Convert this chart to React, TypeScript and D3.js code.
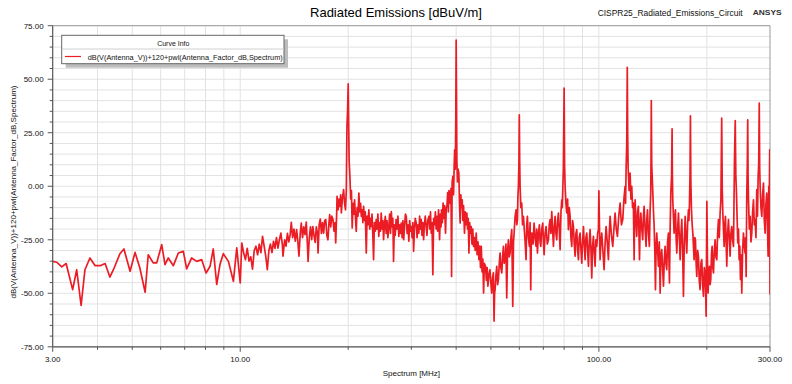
import React from 'react';
import * as d3 from 'd3';

// ---------- data: [frequency MHz, level dBuV/m] ----------
const band3to10: [number, number][] = [
  [3.00, -35.1], [3.08, -35.5], [3.18, -37.7], [3.27, -36.1], [3.41, -48.3], [3.50, -39.0], [3.60, -55.7], [3.69, -39.0],
  [3.81, -33.5], [3.94, -37.1], [4.07, -37.1], [4.20, -36.1], [4.33, -42.4], [4.43, -39.0], [4.62, -31.5], [4.74, -29.3],
  [4.93, -39.7], [5.09, -30.9], [5.25, -38.2], [5.43, -49.5], [5.54, -32.0], [5.72, -35.8], [5.85, -35.8], [6.04, -27.3],
  [6.17, -36.6], [6.30, -33.5], [6.51, -37.1], [6.72, -31.2], [6.94, -30.4], [7.09, -38.6], [7.32, -33.5], [7.56, -35.1],
  [7.81, -34.3], [8.03, -40.5], [8.24, -37.4], [8.41, -29.3], [8.60, -45.9], [8.78, -36.6], [8.97, -31.5], [9.27, -35.1],
  [9.57, -44.4], [9.78, -28.8],
];

const band10to20: [number, number][] = [
  [10.00, -45.2], [10.10, -26.5], [10.22, -31], [10.34, -34.3], [10.46, -29], [10.58, -35], [10.70, -33], [10.82, -38.7],
  [10.94, -30], [11.06, -28], [11.18, -32], [11.30, -27], [11.42, -31], [11.54, -23.4], [11.66, -28], [11.78, -32.7],
  [11.90, -39], [12.02, -30], [12.14, -27], [12.26, -31], [12.38, -25.7], [12.50, -29], [12.62, -24], [12.74, -28.9],
  [12.86, -25], [12.98, -21.9], [13.10, -27], [13.16, -32.7], [13.30, -25], [13.42, -28], [13.54, -22], [13.66, -26],
  [13.78, -22.6], [13.88, -16.9], [14.00, -24], [14.12, -20], [14.24, -25.7], [14.36, -20.3], [14.48, -26], [14.58, -32.7],
  [14.70, -22], [14.80, -17.2], [14.92, -24], [15.04, -19], [15.16, -22.6], [15.28, -16.7], [15.40, -28], [15.46, -35.1],
  [15.58, -24], [15.70, -19], [15.82, -25], [15.94, -18.8], [16.06, -23], [16.18, -26.2], [16.30, -19], [16.42, -22],
  [16.48, -31.2], [16.60, -18], [16.72, -15.3], [16.84, -22], [16.96, -17], [17.08, -21.9], [17.20, -16], [17.32, -15.6],
  [17.44, -23], [17.56, -25], [17.68, -17], [17.76, -13.3], [17.88, -19], [18.00, -14], [18.14, -15.6], [18.26, -21],
  [18.38, -17], [18.46, -26.5], [18.58, -12], [18.62, -4.7], [18.74, -11], [18.86, -6], [18.94, -9.4], [19.06, -4],
  [19.14, -12.5], [19.26, -6], [19.42, -1.6], [19.54, -8], [19.66, -11], [19.76, -2], [19.84, 27.9], [19.92, 35],
];

const band20to40: [number, number][] = [
  [20.00, 47.8], [20.06, 30], [20.12, 12], [20.22, 4.6], [20.32, -6], [20.42, -2], [20.52, -19.5], [20.64, -8],
  [20.76, -13], [20.84, -6.3], [20.96, -15], [21.06, -21.1], [21.18, -10], [21.30, -14], [21.42, -3.2], [21.54, -12],
  [21.66, -8], [21.76, -14.1], [21.88, -11], [21.98, -17], [22.08, -9.4], [22.20, -16], [22.32, -12], [22.46, -31.2],
  [22.58, -14], [22.70, -18], [22.84, -11], [22.96, -20], [23.08, -15], [23.18, -18.8], [23.30, -13], [23.42, -22],
  [23.54, -34.3], [23.66, -17], [23.80, -21], [23.94, -15.6], [24.06, -20], [24.20, -13], [24.34, -23.4], [24.48, -17],
  [24.60, -21], [24.72, -12.5], [24.86, -20], [25.00, -16], [25.10, -25], [25.24, -18], [25.38, -14.1], [25.52, -22],
  [25.66, -16], [25.80, -24], [25.96, -18.8], [26.10, -13], [26.24, -22], [26.38, -11.8], [26.52, -19], [26.64, -15],
  [26.76, -35.1], [26.90, -18], [27.04, -23], [27.20, -15.6], [27.36, -20], [27.52, -14], [27.68, -23.4], [27.84, -18],
  [28.00, -22], [28.12, -17.2], [28.28, -24], [28.42, -16], [28.56, -25], [28.72, -19], [28.88, -13], [29.04, -14.1],
  [29.20, -22], [29.36, -18], [29.52, -25.7], [29.68, -16], [29.84, -21], [29.98, -18.8], [30.14, -24], [30.30, -17],
  [30.44, -30.4], [30.60, -20], [30.76, -15], [30.96, -17.2], [31.12, -24], [31.30, -18], [31.48, -21.9], [31.64, -14],
  [31.80, -20], [31.96, -15.6], [32.12, -23], [32.30, -17], [32.46, -25], [32.62, -18], [32.80, -14], [33.00, -18.8],
  [33.16, -23], [33.34, -16], [33.58, -14.1], [33.76, -20], [33.92, -12], [34.08, -21.9], [34.26, -17], [34.44, -41.3],
  [34.62, -15], [34.82, -18], [35.00, -12], [35.18, -20], [35.36, -14.1], [35.54, -21], [35.72, -11], [35.96, -25],
  [36.14, -13], [36.30, -19], [36.42, -11], [36.60, -17], [36.78, -7.9], [36.96, -15], [37.14, -9], [37.36, -21.9],
  [37.54, -10], [37.70, -9.4], [37.88, -3], [38.04, -12], [38.20, -2], [38.34, -3.2], [38.52, -8], [38.70, -1],
  [38.84, -42.1], [38.98, 2], [39.16, 4.6], [39.34, -4], [39.50, 10], [39.62, 17], [39.78, 8], [39.90, 30],
];

const band40to80: [number, number][] = [
  [40.00, 68.3], [40.08, 45], [40.18, 12.4], [40.34, 2], [40.50, 8], [40.70, 6.1], [40.86, -8], [41.04, -17.2],
  [41.22, -4], [41.40, -10], [41.58, -6.3], [41.76, -16], [41.94, -9], [42.20, -21.9], [42.40, -12], [42.60, -18],
  [42.84, -12.5], [43.04, -20], [43.22, -15], [43.42, -31.2], [43.62, -17], [43.84, -22], [44.06, -18.8], [44.28, -27],
  [44.50, -20], [44.72, -28.1], [44.96, -24], [45.20, -30], [45.50, -21.9], [45.76, -32], [46.02, -26], [46.30, -34.3],
  [46.54, -28], [46.76, -38], [47.00, -28.1], [47.24, -40], [47.48, -34], [47.70, -49.9], [47.94, -36], [48.30, -37.4],
  [48.56, -44], [48.80, -38], [49.04, -46.7], [49.40, -41], [49.70, -39], [49.96, -45], [50.27, -49.9], [50.50, -43],
  [50.80, -40.5], [51.02, -63], [51.20, -50], [51.35, -48.3], [51.62, -42], [51.91, -37.4], [52.20, -46], [52.47, -43.6],
  [52.76, -36], [53.03, -31.2], [53.30, -38], [53.60, -40.5], [53.90, -33], [54.18, -28.1], [54.46, -36], [54.76, -34.3],
  [55.06, -27], [55.35, -52.2], [55.64, -30], [55.95, -25], [56.24, -33], [56.55, -31.2], [56.86, -24], [57.16, -20.3],
  [57.53, -56.1], [57.80, -26], [58.03, -21.9], [58.40, -14], [58.78, -11], [59.04, -18], [59.28, -15.6], [59.46, -5],
  [59.65, 0], [59.84, 10], [60.00, 33.3], [60.14, 12], [60.30, 0], [60.60, -10], [60.94, -7.9], [61.26, -18],
  [61.61, -14.1], [61.94, -20], [62.26, -25.7], [62.66, -34.3], [62.92, -18], [63.20, -14.1], [63.60, -24], [64.02, -28.1],
  [64.30, -17], [64.57, -48.3], [64.84, -22], [65.12, -21.9], [65.54, -27], [65.97, -17.2], [66.40, -24], [66.82, -28.1],
  [67.10, -20], [67.40, -31.2], [67.84, -22], [68.27, -18], [68.56, -26], [68.86, -28.1], [69.30, -20], [69.75, -17.2],
  [70.05, -26], [70.35, -32], [70.80, -22], [71.26, -18.8], [71.80, -27], [72.33, -25], [72.72, -18], [73.11, -15.6],
  [73.50, -22], [73.89, -11.8], [74.30, -20], [74.69, -28.1], [75.10, -19], [75.49, -14.1], [75.90, -22], [76.31, -25],
  [76.72, -16], [77.13, -12.5], [77.54, -20], [77.96, -29.6], [78.40, -12], [78.80, -6.3], [79.06, -10], [79.31, -1.6],
  [79.60, 8],
];

const band80to160: [number, number][] = [
  [80.00, 45.8], [80.24, 10], [80.50, 0], [80.94, -8], [81.37, -12.5], [81.80, -6], [82.24, -20.3], [82.68, -10],
  [83.13, -14.1], [83.58, -24], [84.03, -28.1], [84.48, -16], [84.93, -18.8], [85.38, -27], [85.84, -32.7], [86.30, -22],
  [86.77, -20.3], [87.24, -30], [87.70, -34.3], [88.16, -24], [88.64, -21.9], [89.10, -29], [89.60, -35.9], [90.08, -26],
  [90.56, -18.8], [91.04, -27], [91.53, -34.3], [92.02, -24], [92.52, -21.9], [93.02, -30], [93.51, -37.4], [94.02, -26],
  [94.52, -20.3], [95.02, -29], [95.53, -42.9], [96.04, -28], [96.56, -23.4], [97.08, -31], [97.60, -37.4], [98.12, -25],
  [98.65, -28.1], [99.20, -22], [99.71, -20.3], [100.0, -2.1], [100.40, -20], [100.78, -34.3], [101.30, -26], [101.87, -21.9],
  [102.60, -30], [103.40, -39], [104.06, -27], [104.74, -18.8], [105.50, -26], [106.32, -34.3], [106.90, -22], [107.47, -14.1],
  [108.40, -23], [109.32, -28.1], [110.14, -20], [110.97, -12.5], [111.80, -20], [112.65, -23.4], [113.60, -14], [114.59, -7.9],
  [115.58, -18], [116.57, -15.6], [117.44, -6], [118.33, 0], [118.70, -8], [119.09, 7.7], [119.60, 20], [120.00, 55.6],
  [120.30, 25], [120.64, 9.2], [121.40, -2], [122.20, 6.1], [122.84, -6], [123.50, 0], [124.14, -10], [124.80, -7.9],
  [125.40, -34.3], [125.80, -12], [126.20, -6.3], [126.84, -16], [127.50, -23.4], [128.20, -12], [128.90, -9.4], [129.80, -34.3],
  [130.34, -18], [130.90, -12.5], [131.70, -20], [132.50, -25], [133.10, -14], [133.70, -9.4], [134.54, -20], [135.40, -28.1],
  [136.00, -16], [136.60, -11], [137.44, -22], [138.30, -28.1], [138.90, -12], [139.50, -3.2], [139.80, 15], [140.00, 40],
  [140.40, 10], [141.40, -3.2], [142.00, -12], [142.60, -18.8], [143.20, -30], [143.80, -48.3], [144.40, -28], [145.00, -21.9],
  [145.80, -30], [146.60, -37.4], [147.40, -26], [148.20, -49.9], [148.94, -32], [149.70, -29.6], [150.54, -38], [151.40, -46.7],
  [152.20, -34], [153.00, -28.1], [153.80, -36], [154.60, -39], [155.44, -26], [156.30, -21.9], [156.80, -34], [157.30, -45.2],
  [158.00, -20], [158.70, -3.2], [159.50, 5],
];

const band160to300: [number, number][] = [
  [160.00, 26.8], [160.30, 5], [160.70, -6.3], [161.40, -14], [162.10, -21.9], [162.80, -15], [163.50, -11], [164.20, -24],
  [164.90, -31.2], [165.80, -20], [166.70, -12.5], [167.60, -24], [168.50, -34.3], [169.40, -22], [170.30, -15.6], [171.20, -30],
  [172.10, -51.4], [173.04, -26], [174.00, -14.1], [174.90, -24], [175.80, -31.2], [176.74, -18], [177.70, -11], [178.30, -16],
  [178.90, -7.9], [179.50, 5], [180.00, 32.9], [180.50, 2], [181.20, -11], [182.00, -18], [182.80, -21.9], [183.54, -28],
  [184.30, -34.3], [185.10, -24], [185.90, -25], [186.70, -36], [187.50, -42.1], [188.50, -30], [189.50, -32.7], [190.50, -44],
  [191.50, -48.3], [192.54, -36], [193.60, -34.3], [194.64, -46], [195.70, -51.4], [196.74, -38], [197.80, -40.5], [198.50, -50],
  [199.10, -60.7], [199.60, -30], [200.00, -7.1], [200.80, -35], [201.60, -49.9], [202.50, -40], [203.40, -37.4], [204.24, -46],
  [205.10, -43.6], [206.00, -32], [206.90, -28.1], [207.80, -38], [208.70, -40.5], [209.80, -30], [210.90, -25], [212.04, -33],
  [213.20, -34.3], [214.34, -22], [215.50, -15.6], [216.64, -24], [217.80, -12.5], [218.90, -6], [220.00, 31.8], [220.80, -2],
  [221.60, -12.5], [222.54, -20], [223.50, -28.1], [224.44, -18], [225.40, -14.1], [226.34, -26], [227.30, -37.4], [228.54, -22],
  [229.80, -15.6], [231.00, -24], [232.20, -32.7], [233.44, -22], [234.70, -18.8], [236.00, -25], [237.30, -28.1], [238.20, -5],
  [238.80, 12.4], [240.00, 30.7], [240.90, 5], [241.90, -3.2], [243.00, -16], [244.00, -26.5], [245.04, -20], [246.10, -34.3],
  [247.14, -28], [248.20, -43.6], [249.24, -32], [250.30, -49.9], [251.60, -30], [253.00, -21.9], [254.34, -28], [255.70, -31.2],
  [256.54, -24], [257.40, -42.1], [258.00, -20], [258.50, -3.2], [259.30, 10], [260.00, 31], [260.60, 5], [261.30, -6.3],
  [262.70, -20], [264.10, -14.1], [265.50, -26], [266.90, -21.9], [268.34, -12], [269.80, -6.3], [271.24, -18], [272.70, -15.6],
  [274.14, -24], [275.60, -1.6], [276.80, -14], [278.00, 4.6], [279.00, 10], [280.00, 38.8], [280.80, 8], [281.60, 0],
  [283.10, -10], [284.60, -14.1], [286.14, -4], [287.70, 1.5], [289.24, -16], [290.80, -21.9], [292.34, -8], [293.90, -3.2],
  [295.14, -18], [296.40, -32.7], [297.00, -12], [297.70, 0], [298.60, -6], [299.50, 17], [300.00, -50.6],
];

const yTickValues: number[] = [75, 50, 25, 0, -25, -50, -75];
const xMajorTicks: number[] = [3, 10, 100, 300];
const xMinorTicks: number[] = [4, 5, 6, 7, 8, 9, 20, 30, 40, 50, 60, 70, 80, 90, 200];

const titleText = 'Radiated Emissions [dBuV/m]';
const designText = 'CISPR25_Radiated_Emissions_Circuit';
const brandText = 'ANSYS';
const xAxisTitle = 'Spectrum [MHz]';
const yAxisTitle = 'dB(V(Antenna_V))+120+pwl(Antenna_Factor_dB,Spectrum)';
const legendTitle = 'Curve Info';
const seriesName = 'dB(V(Antenna_V))+120+pwl(Antenna_Factor_dB,Spectrum)';

// ---------- layout ----------
const W = 792;
const H = 384;
const PL = 52.7;
const PR = 770;
const PT = 25.7;
const PB = 346.8;
const FONT = "'Liberation Sans', Arial, sans-serif";
const RED = '#ec1c24';

export default function App() {
  const x = d3.scaleLog().domain([3, 300]).range([PL, PR]);
  const y = d3.scaleLinear().domain([-75, 75]).range([PB, PT]);

  const pts: [number, number][] = [
    ...band3to10,
    ...band10to20,
    ...band20to40,
    ...band40to80,
    ...band80to160,
    ...band160to300,
  ];
  const line = d3
    .line<[number, number]>()
    .x((d) => x(d[0]))
    .y((d) => y(d[1]));

  const hGrid = d3.range(-75, 75.001, 5);
  const yMinor = d3.range(-75, 75.001, 5).filter((v) => Math.abs(v % 25) > 0.001);

  return (
    <svg
      width={W}
      height={H}
      style={{ position: 'fixed', left: 0, top: 0, background: '#fff' }}
      fontFamily={FONT}
    >
      <rect x={0} y={0} width={W} height={H} fill="#fff" />
      <defs>
        <clipPath id="plotClip">
          <rect x={PL} y={PT - 1} width={PR - PL} height={PB - PT + 2} />
        </clipPath>
      </defs>

      {/* grid */}
      {hGrid.map((v) => (
        <line key={'h' + v} x1={PL} x2={PR} y1={y(v)} y2={y(v)} stroke="#e2e2e2" strokeWidth={1} />
      ))}
      {[...xMinorTicks, 10, 100].map((f) => (
        <line key={'v' + f} x1={x(f)} x2={x(f)} y1={PT} y2={PB} stroke="#e2e2e2" strokeWidth={1} />
      ))}

      {/* frame */}
      <line x1={PL} x2={PR} y1={PT} y2={PT} stroke="#9a9a9a" strokeWidth={1} />
      <line x1={PR} x2={PR} y1={PT} y2={PB} stroke="#9a9a9a" strokeWidth={1} />

      {/* trace */}
      <g clipPath="url(#plotClip)">
        <path d={line(pts) || ''} fill="none" stroke={RED} strokeWidth={1.7} strokeLinejoin="round" />
      </g>

      {/* axes */}
      <line x1={PL} x2={PL} y1={PT} y2={PB} stroke="#555" strokeWidth={1.2} />
      <line x1={PL} x2={PR} y1={PB} y2={PB} stroke="#555" strokeWidth={1.2} />

      {yTickValues.map((v) => (
        <g key={'yt' + v}>
          <line x1={PL - 5} x2={PL} y1={y(v)} y2={y(v)} stroke="#555" strokeWidth={1} />
          <text x={PL - 9} y={y(v) + 3} fontSize={8} textAnchor="end" fill="#111">
            {v.toFixed(2)}
          </text>
        </g>
      ))}
      {yMinor.map((v) => (
        <line key={'ym' + v} x1={PL - 3} x2={PL} y1={y(v)} y2={y(v)} stroke="#555" strokeWidth={1} />
      ))}

      {xMajorTicks.map((f) => (
        <g key={'xt' + f}>
          <line x1={x(f)} x2={x(f)} y1={PB} y2={PB + 5} stroke="#555" strokeWidth={1} />
          <text x={x(f)} y={PB + 15.5} fontSize={8} textAnchor="middle" fill="#111">
            {f.toFixed(2)}
          </text>
        </g>
      ))}
      {xMinorTicks.map((f) => (
        <line key={'xm' + f} x1={x(f)} x2={x(f)} y1={PB} y2={PB + 3} stroke="#555" strokeWidth={1} />
      ))}

      {/* axis titles */}
      <text x={(PL + PR) / 2} y={376} fontSize={8} textAnchor="middle" fill="#111">
        {xAxisTitle}
      </text>
      <text transform={`translate(16,${192}) rotate(-90)`} fontSize={8} textAnchor="middle" fill="#111">
        {yAxisTitle}
      </text>

      {/* titles */}
      <text x={396} y={17} fontSize={13} textAnchor="middle" fill="#000">
        {titleText}
      </text>
      <text x={597.7} y={15.5} fontSize={8.5} textLength={145} lengthAdjust="spacingAndGlyphs" fill="#111">
        {designText}
      </text>
      <text x={752.7} y={15} fontSize={8} fontWeight="bold" textLength={29} lengthAdjust="spacingAndGlyphs" fill="#333">
        {brandText}
      </text>

      {/* legend */}
      <rect x={65.7} y={39.3} width={222.3} height={28.4} fill="#bdbdbd" />
      <rect x={61.7} y={35.3} width={222.3} height={28.4} fill="#fff" stroke="#666" strokeWidth={1} />
      <line x1={62.2} x2={283.5} y1={49} y2={49} stroke="#d0d0d0" strokeWidth={1} />
      <text x={173.3} y={46} fontSize={7} textAnchor="middle" fill="#111">
        {legendTitle}
      </text>
      <line x1={65} x2={81} y1={56.5} y2={56.5} stroke={RED} strokeWidth={1.2} />
      <text x={87.7} y={59.6} fontSize={7} textLength={195} lengthAdjust="spacingAndGlyphs" fill="#111">
        {seriesName}
      </text>
    </svg>
  );
}
